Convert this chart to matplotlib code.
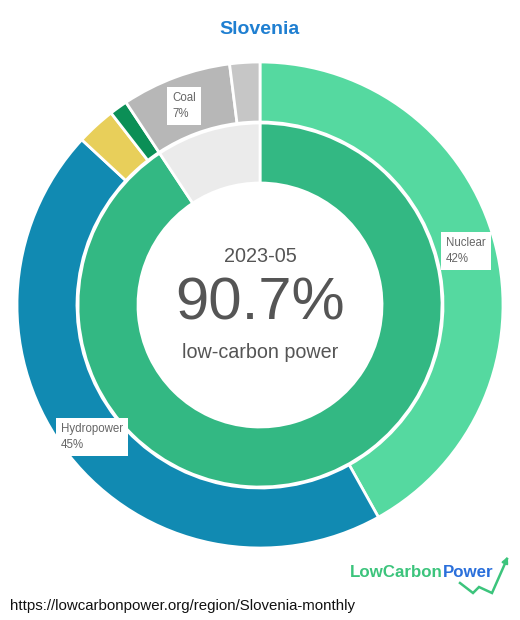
import matplotlib.pyplot as plt
from matplotlib.lines import Line2D

plt.rcParams['font.family'] = ['Liberation Sans', 'DejaVu Sans']

# data
region = 'Slovenia'
month = '2023-05'
low_carbon_share = 90.7
sources = ['Nuclear', 'Hydropower', 'Solar', 'Biomass', 'Coal', 'Gas']
shares = [41.9, 45.0, 2.6, 1.2, 7.3, 2.0]
source_colors = ['#55d9a0', '#118ab2', '#e8cf5a', '#0b8f56', '#b7b7b7', '#c6c6c6']
labelled = {'Nuclear': '42%', 'Hydropower': '45%', 'Coal': '7%'}
url = 'https://lowcarbonpower.org/region/Slovenia-monthly'

W, H = 520, 620
cx, cy, R = 260, 305, 243

fig = plt.figure(figsize=(W / 100, H / 100), dpi=100)
fig.patch.set_facecolor('white')

# pie axes, square around the ring centre
pie_ax = fig.add_axes([(cx - R) / W, 1 - (cy + R) / H, 2 * R / W, 2 * R / H])
pie_ax.pie(shares, colors=source_colors, radius=1.0, startangle=90, counterclock=False,
           wedgeprops=dict(width=60 / R, edgecolor='white', linewidth=2))
pie_ax.pie([low_carbon_share, 100 - low_carbon_share], colors=['#33b883', '#ebebeb'],
           radius=182 / R, startangle=90, counterclock=False,
           wedgeprops=dict(width=60 / R, edgecolor='white', linewidth=2))
pie_ax.set_xlim(-1, 1)
pie_ax.set_ylim(-1, 1)
pie_ax.set_aspect('equal')
pie_ax.axis('off')

# overlay in pixel coordinates for all the text
ax = fig.add_axes([0, 0, 1, 1])
ax.set_xlim(0, W)
ax.set_ylim(H, 0)
ax.axis('off')

ax.text(cx, 29, region, ha='center', va='center', fontsize=14, fontweight='bold', color='#1f7fd1')
ax.text(cx, 262, month, ha='center', va='baseline', fontsize=14.3, color='#555555')
ax.text(cx, 320, f'{low_carbon_share}%', ha='center', va='baseline', fontsize=43, color='#555555')
ax.text(cx, 358, 'low-carbon power', ha='center', va='baseline', fontsize=14.2, color='#555555')

label_pos = {'Nuclear': (446, 251), 'Coal': (172, 106), 'Hydropower': (61, 437)}
for name, pct in labelled.items():
    x, y = label_pos[name]
    ax.text(x, y, f'{name}\n{pct}', ha='left', va='center', fontsize=8.3, color='#666666',
            linespacing=1.45,
            bbox=dict(boxstyle='square,pad=0.45', facecolor='white', edgecolor='none'))

ax.text(10, 606, url, ha='left', va='center', fontsize=10.8, color='#111111')

# logo
t = ax.text(350, 577, 'LowCarbon', ha='left', va='baseline', fontsize=12.2, fontweight='bold', color='#3cc47c')
fig.canvas.draw()
bb = t.get_window_extent().transformed(ax.transData.inverted())
ax.text(bb.x1, 577, 'Power', ha='left', va='baseline', fontsize=12.2, fontweight='bold', color='#2a6fdb')
zig_x = [460, 473, 479, 492, 507]
zig_y = [583, 593, 587, 593, 559]
ax.add_line(Line2D(zig_x, zig_y, color='#3cc47c', linewidth=1.8, solid_joinstyle='miter'))
ax.annotate('', xy=(509, 554), xytext=(505, 563),
            arrowprops=dict(arrowstyle='-|>', color='#3cc47c', lw=1.5, mutation_scale=9))

fig.savefig('out.png', dpi=100, facecolor='white')
